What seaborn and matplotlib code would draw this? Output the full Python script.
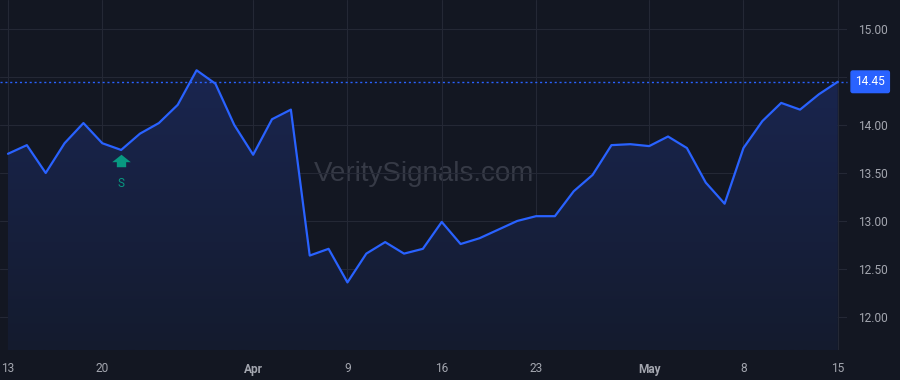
import numpy as np
import pandas as pd
import matplotlib
matplotlib.use("Agg")
import matplotlib.pyplot as plt
import seaborn as sns
from matplotlib.path import Path
from matplotlib.colors import LinearSegmentedColormap
import matplotlib.transforms as mtransforms

# ---- data ----
prices = [13.70, 13.79, 13.50, 13.81, 14.02, 13.81, 13.74, 13.91, 14.02, 14.21,
          14.57, 14.43, 14.00, 13.69, 14.06, 14.16, 12.64, 12.71, 12.36, 12.66,
          12.78, 12.66, 12.71, 12.99, 12.76, 12.82, 12.91, 13.00, 13.05, 13.05,
          13.31, 13.48, 13.79, 13.80, 13.78, 13.88, 13.76, 13.40, 13.18, 13.76,
          14.04, 14.23, 14.16, 14.32, 14.45]
bar_index = list(range(len(prices)))
tick_pos = [0, 5, 13, 18, 23, 28, 34, 39, 44]
tick_labels = ["13", "20", "Apr", "9", "16", "23", "May", "8", "15"]
month_labels = ["Apr", "May"]
y_ticks = [12.00, 12.50, 13.00, 13.50, 14.00, 14.50, 15.00]
signal_idx = [6]
signal_text = ["S"]
last_price = prices[-1]
watermark = "VeritySignals.com"

BG = "#131722"
LINE = "#2962FF"
GRID = "#242835"
TXT = "#a3a6af"
TEAL = "#089981"

df = pd.DataFrame({"i": bar_index, "price": prices})

sns.set_theme(style="dark")
plt.rcParams["font.family"] = ["Roboto", "DejaVu Sans"]

fig = plt.figure(figsize=(9, 3.8), dpi=100, facecolor=BG)
ax = fig.add_axes([0, 30 / 380, 847 / 900, 350 / 380])
ax.set_facecolor(BG)

xlim = (-0.424, 44.49)
ylim = (11.656, 15.302)
ax.set_xlim(*xlim)
ax.set_ylim(*ylim)

# gradient area under the line
poly = ax.fill_between(df["i"], df["price"], ylim[0], color="none", lw=0)
cmap = LinearSegmentedColormap.from_list(
    "g", [(0.0, "#141b2e"), (1.0, "#1b2858")])
grad = np.linspace(0, 1, 256).reshape(-1, 1)
im = ax.imshow(grad, extent=[xlim[0], xlim[1], ylim[0], ylim[1]],
               origin="lower", aspect="auto", cmap=cmap, zorder=1)
im.set_clip_path(poly.get_paths()[0], transform=ax.transData)

sns.lineplot(data=df, x="i", y="price", ax=ax, color=LINE, lw=1.6, zorder=3)

# last-price dotted line
ax.axhline(last_price, color=LINE, lw=1.0, ls=(0, (1.5, 2)), zorder=2, clip_on=False)

# grid
ax.set_axisbelow(True)
ax.grid(True, color=GRID, lw=0.8)
for s in ax.spines.values():
    s.set_visible(False)

ax.set_xticks(tick_pos)
ax.set_xticklabels(tick_labels)
ax.set_yticks(y_ticks)
ax.set_yticklabels([f"{v:.2f}" for v in y_ticks])
ax.yaxis.tick_right()
ax.tick_params(axis="y", length=0, pad=8, labelsize=8.6, labelcolor=TXT)
ax.tick_params(axis="x", length=0, pad=9, labelsize=8.6, labelcolor=TXT)
for lab in ax.get_xticklabels():
    if lab.get_text() in month_labels:
        lab.set_fontweight("bold")
ax.set_xlabel("")
ax.set_ylabel("")

# watermark
ax.text(424 / 900, 1 - 174 / 380, watermark, transform=fig.transFigure,
        ha="center", va="center", fontsize=20, color="#363a46", zorder=0.5,
        family=["Liberation Sans", "DejaVu Sans"])

# signal markers
arrow = Path([(-0.5, 0.07), (0.0, 0.47), (0.5, 0.07), (0.25, 0.07), (0.25, -0.2),
              (-0.25, -0.2), (-0.25, 0.07), (-0.5, 0.07)],
             [Path.MOVETO] + [Path.LINETO] * 6 + [Path.CLOSEPOLY])
for idx, t in zip(signal_idx, signal_text):
    tr = mtransforms.offset_copy(ax.transData, fig=fig, x=0, y=-9.5, units="points")
    ax.scatter([idx], [prices[idx]], marker=arrow, s=180, color=TEAL, lw=0,
               transform=tr, zorder=4)
    ax.annotate(t, xy=(idx, prices[idx]), xytext=(0, -24), textcoords="offset points",
                ha="center", va="center", fontsize=8.5, color=TEAL, zorder=4)

# last price label box
ax.annotate(f"{last_price:.2f}", xy=(1.0, last_price),
            xycoords=("axes fraction", "data"), xytext=(6, 0),
            textcoords="offset points", ha="left", va="center",
            fontsize=8.6, color="white", zorder=10, annotation_clip=False,
            bbox=dict(boxstyle="round,pad=0.36,rounding_size=0.15", fc=LINE, ec=LINE))

fig.savefig("out.png", dpi=100, facecolor=BG)
